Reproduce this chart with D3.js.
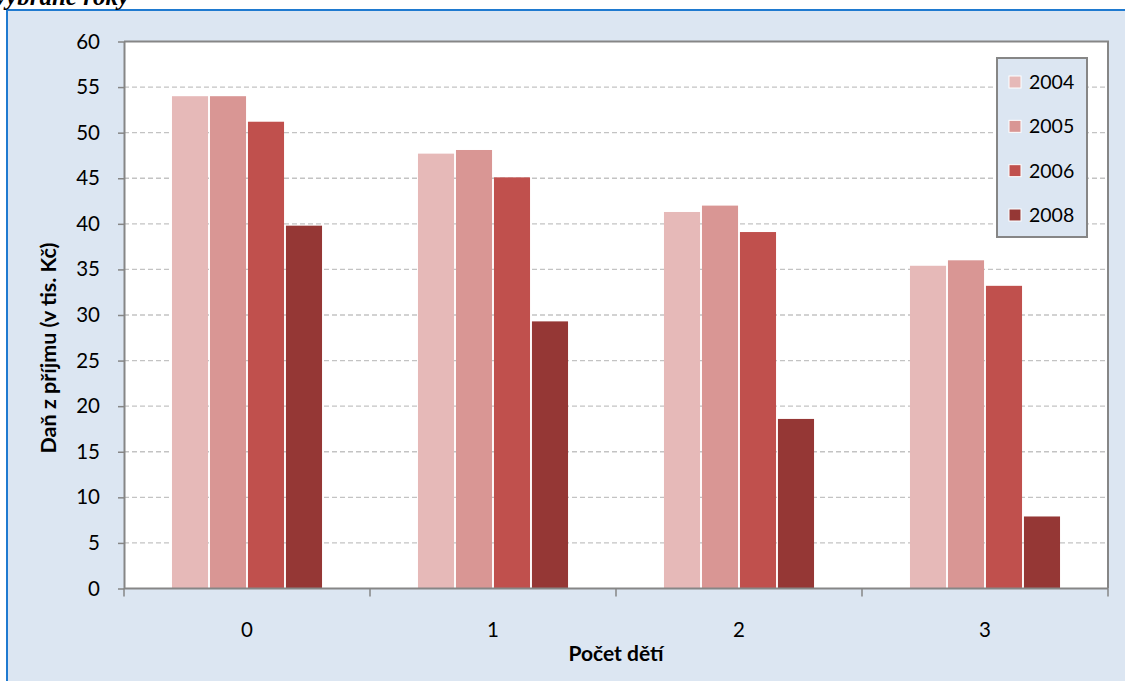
<!DOCTYPE html>
<html><head><meta charset="utf-8">
<script src="https://cdn.jsdelivr.net/npm/d3@7"></script>
<style>body{margin:0;background:#fff;overflow:hidden}svg{display:block}</style>
</head><body>
<svg id="c" width="1125" height="681"></svg>
<script>
const categories = ["0", "1", "2", "3"];
const years = ["2004", "2005", "2006", "2008"];
const values2004 = [54.0, 47.7, 41.3, 35.4];
const values2005 = [54.0, 48.1, 42.0, 36.0];
const values2006 = [51.2, 45.1, 39.1, 33.2];
const values2008 = [39.8, 29.3, 18.6, 7.9];
const yTicks = [0, 5, 10, 15, 20, 25, 30, 35, 40, 45, 50, 55, 60];
const colors = ["#e6b9b8", "#d99694", "#c0504d", "#953735"];
const series = [values2004, values2005, values2006, values2008];

const svg = d3.select("#c");
const font = "Lato, 'Open Sans', sans-serif";

// outer frame
svg.append("rect").attr("x", 7).attr("y", 10).attr("width", 1130).attr("height", 690)
  .attr("fill", "#dce6f2").attr("stroke", "#1f7ad0").attr("stroke-width", 2);

// cropped title (cut off at top edge, as in the reference)
svg.append("text").attr("x", -5).attr("y", 5).text("vybrané roky")
  .attr("font-family", "'Liberation Serif', serif").attr("font-style", "italic")
  .attr("font-weight", "bold").attr("font-size", 25).attr("fill", "#000");

const L = 124, R = 1108, T = 41.5, B = 588.5;
const x0 = d3.scaleBand().domain(categories).range([L, R]).paddingInner(0.39).paddingOuter(0.195);
const x1 = d3.scaleBand().domain(years).range([0, x0.bandwidth()]).paddingInner(0.05);
const y = d3.scaleLinear().domain([0, 60]).range([B, T]);

// plot area
svg.append("rect").attr("x", L).attr("y", T).attr("width", R - L).attr("height", B - T)
  .attr("fill", "#fff");

// gridlines
svg.append("g").selectAll("line").data(yTicks.filter(d => d > 0 && d < 60)).join("line")
  .attr("x1", L).attr("x2", R).attr("y1", d => y(d)).attr("y2", d => y(d))
  .attr("stroke", "#c3c3c3").attr("stroke-width", 1.3).attr("stroke-dasharray", "5,3");

// bars
const g = svg.append("g");
years.forEach((yr, i) => {
  g.selectAll(null).data(categories).join("rect")
    .attr("x", c => x0(c) + x1(yr))
    .attr("width", x1.bandwidth())
    .attr("y", (c, j) => y(series[i][j]))
    .attr("height", (c, j) => B - y(series[i][j]))
    .attr("fill", colors[i]);
});

// plot border (top & right)
svg.append("path").attr("d", `M${L},${T}H${R}V${B}`).attr("fill", "none")
  .attr("stroke", "#868686").attr("stroke-width", 2);

// y axis
const yAxis = d3.axisLeft(y).tickValues(yTicks).tickSize(6).tickPadding(18).tickSizeOuter(0);
const ya = svg.append("g").attr("transform", `translate(${L},0)`).call(yAxis);
ya.select(".domain").attr("stroke", "#868686").attr("stroke-width", 2);
ya.selectAll(".tick line").attr("stroke", "#868686").attr("stroke-width", 1.5);
ya.selectAll(".tick text").attr("font-family", font).attr("font-size", 20.5).attr("fill", "#000");

// x axis
const xa = svg.append("g").attr("transform", `translate(0,${B})`);
xa.append("line").attr("x1", L).attr("x2", R).attr("stroke", "#868686").attr("stroke-width", 2);
const bounds = categories.map(c => x0(c) - x0.step() * x0.paddingInner() / 2);
bounds.push(R);
bounds[0] = L;
xa.selectAll(".xt").data(bounds).join("line").attr("class", "xt")
  .attr("x1", d => d).attr("x2", d => d).attr("y1", 0).attr("y2", 8)
  .attr("stroke", "#868686").attr("stroke-width", 1.5);
xa.selectAll("text").data(categories).join("text")
  .attr("x", c => x0(c) + x0.bandwidth() / 2).attr("y", 48.5)
  .attr("text-anchor", "middle").attr("font-family", font).attr("font-size", 20.5)
  .text(c => c);

// axis titles
svg.append("text").attr("x", (L + R) / 2).attr("y", 661).attr("text-anchor", "middle")
  .attr("font-family", font).attr("font-weight", "bold").attr("font-size", 21).text("Počet dětí");
svg.append("text").attr("transform", `translate(56,348) rotate(-90)`)
  .attr("text-anchor", "middle").attr("font-family", font).attr("font-weight", "bold")
  .attr("font-size", 21.5).text("Daň z příjmu (v tis. Kč)");

// legend
const lg = svg.append("g");
lg.append("rect").attr("x", 997).attr("y", 58).attr("width", 90).attr("height", 179)
  .attr("fill", "#dce6f2").attr("stroke", "#868686").attr("stroke-width", 2);
const ly = d3.scalePoint().domain(years).range([82, 215]);
years.forEach((yr, i) => {
  lg.append("rect").attr("x", 1009).attr("y", ly(yr) - 6).attr("width", 12).attr("height", 12)
    .attr("fill", colors[i]).attr("stroke", "#fff").attr("stroke-width", 1);
  lg.append("text").attr("x", 1029).attr("y", ly(yr) + 7).attr("font-family", font)
    .attr("font-size", 19.5).text(yr);
});
</script>
</body></html>
